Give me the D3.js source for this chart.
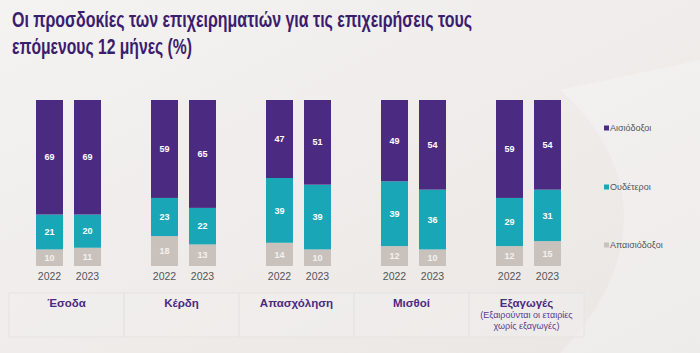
<!DOCTYPE html>
<html>
<head>
<meta charset="utf-8">
<script src="https://cdn.jsdelivr.net/npm/d3@7"></script>
<style>
  html, body { margin: 0; padding: 0; }
  body { width: 700px; height: 353px; overflow: hidden; }
  svg { display: block; font-family: "Liberation Sans", Arial, sans-serif; }
</style>
</head>
<body>
<svg id="chart" width="700" height="353"></svg>
<script>
const categories = ['Έσοδα', 'Κέρδη', 'Απασχόληση', 'Μισθοί', 'Εξαγωγές'];
const subLabels = [[], [], [], [], ['(Εξαιρούνται οι εταιρίες', 'χωρίς εξαγωγές)']];
const years = ['2022', '2023'];
const seriesNames = ['Απαισιόδοξοι', 'Ουδέτεροι', 'Αισιόδοξοι'];

// values per category, [2022, 2023]
const pessimists = [[10, 11], [18, 13], [14, 10], [12, 10], [12, 15]];
const neutrals   = [[21, 20], [23, 22], [39, 39], [39, 36], [29, 31]];
const optimists  = [[69, 69], [59, 65], [47, 51], [49, 54], [59, 54]];

const colors = ['#c9c2bc', '#19a7b7', '#4b2a82'];
const W = 700, H = 353;

const svg = d3.select('#chart');

// background
const defs = svg.append('defs');
const bg = defs.append('linearGradient').attr('id', 'bg')
  .attr('x1', 0).attr('y1', 0).attr('x2', 1).attr('y2', 1);
bg.append('stop').attr('offset', 0).attr('stop-color', '#f4f3f1');
bg.append('stop').attr('offset', 0.6).attr('stop-color', '#eeebe9');
bg.append('stop').attr('offset', 1).attr('stop-color', '#e9e6e4');
svg.append('rect').attr('width', W).attr('height', H).attr('fill', 'url(#bg)');
svg.append('path')
  .attr('d', 'M560,90 C640,160 650,260 560,353 L700,353 L700,60 Z')
  .attr('fill', '#ffffff').attr('opacity', 0.25);

// title
const title = svg.append('g').attr('fill', '#3b1d6e').attr('font-size', 22)
  .attr('font-weight', 'bold');
title.append('text').attr('x', 12).attr('y', 27)
  .attr('textLength', 460).attr('lengthAdjust', 'spacingAndGlyphs')
  .text('Οι προσδοκίες των επιχειρηματιών για τις επιχειρήσεις τους');
title.append('text').attr('x', 12).attr('y', 54)
  .attr('textLength', 180).attr('lengthAdjust', 'spacingAndGlyphs')
  .text('επόμενους 12 μήνες (%)');

// scales
const x0 = d3.scaleBand().domain(categories).range([11, 586]);
const x1 = d3.scaleBand().domain(years).range([25, 90]).paddingInner(0.2895);
const y = d3.scaleLinear().domain([0, 100]).range([266, 100]);

const rows = [];
categories.forEach((c, i) => {
  years.forEach((yr, j) => {
    rows.push({cat: c, year: yr, p: pessimists[i][j], n: neutrals[i][j], o: optimists[i][j]});
  });
});
const stacked = d3.stack().keys(['p', 'n', 'o'])(rows);

const barsG = svg.append('g');
stacked.forEach((layer, k) => {
  const g = barsG.append('g');
  g.selectAll('rect').data(layer).enter().append('rect')
    .attr('x', d => x0(d.data.cat) + x1(d.data.year))
    .attr('y', d => y(d[1]))
    .attr('width', x1.bandwidth())
    .attr('height', d => y(d[0]) - y(d[1]))
    .attr('fill', colors[k]);
  g.selectAll('text').data(layer).enter().append('text')
    .attr('x', d => x0(d.data.cat) + x1(d.data.year) + x1.bandwidth() / 2)
    .attr('y', d => (y(d[0]) + y(d[1])) / 2)
    .attr('dy', '0.35em')
    .attr('text-anchor', 'middle')
    .attr('font-size', 9).attr('font-weight', 'bold')
    .attr('fill', k === 0 ? '#f3f1ef' : '#ffffff')
    .text(d => d[1] - d[0]);
});

// year labels
svg.append('g').selectAll('text').data(rows).enter().append('text')
  .attr('x', d => x0(d.cat) + x1(d.year) + x1.bandwidth() / 2)
  .attr('y', 280)
  .attr('text-anchor', 'middle')
  .attr('font-size', 10.5).attr('fill', '#555555')
  .text(d => d.year);

// category boxes
const boxes = svg.append('g').selectAll('g').data(categories).enter().append('g');
boxes.append('rect')
  .attr('x', d => x0(d) - 2)
  .attr('y', 293)
  .attr('width', x0.bandwidth())
  .attr('height', 44)
  .attr('fill', '#f1efee').attr('fill-opacity', 0.5)
  .attr('stroke', '#e6e3e1').attr('stroke-width', 1);
boxes.append('text')
  .attr('x', d => x0(d) + x0.bandwidth() / 2 - 2)
  .attr('y', 307)
  .attr('text-anchor', 'middle')
  .attr('font-size', 11.5).attr('font-weight', 'bold')
  .attr('fill', '#4b2a82')
  .text(d => d);
boxes.each(function(d, i) {
  d3.select(this).selectAll('text.sub').data(subLabels[i]).enter().append('text')
    .attr('class', 'sub')
    .attr('x', x0(d) + x0.bandwidth() / 2 - 2)
    .attr('y', (s, k) => 318 + k * 11)
    .attr('text-anchor', 'middle')
    .attr('font-size', 9).attr('fill', '#5a3a8e')
    .text(s => s);
});

// legend
const legendY = [245, 187, 128];
const legend = svg.append('g').selectAll('g').data(seriesNames).enter().append('g')
  .attr('transform', (d, i) => `translate(604,${legendY[i]})`);
legend.append('rect').attr('x', 0).attr('y', -2.5).attr('width', 5).attr('height', 5)
  .attr('fill', (d, i) => colors[i]);
legend.append('text').attr('x', 6).attr('y', 0).attr('dy', '0.35em')
  .attr('font-size', 9).attr('fill', '#555555')
  .text(d => d);
</script>
</body>
</html>
